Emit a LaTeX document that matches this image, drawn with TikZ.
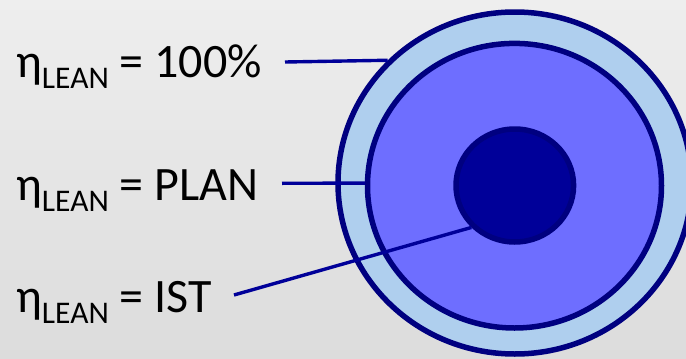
\documentclass[tikz,border=0pt]{standalone}
\usepackage{fontspec}
\setmainfont{Carlito}
\usetikzlibrary{shapes.geometric}
\definecolor{bgtop}{HTML}{EEEEEE}
\definecolor{bgbot}{HTML}{DCDCDC}
\definecolor{ringlight}{HTML}{AFCFEE}
\definecolor{ringmid}{HTML}{6E6EFF}
\definecolor{coredark}{HTML}{000099}
\definecolor{rimnavy}{HTML}{000080}
\definecolor{linkblue}{HTML}{000099}
\tikzset{
  ring/.style={ellipse, draw=rimnavy, line width=5.5pt, inner sep=0pt},
  label/.style={anchor=base west, inner sep=0pt, font=\fontsize{48}{52}\selectfont},
  link/.style={draw=linkblue, line width=3.4pt}
}
\newcommand{\etalean}{η\raisebox{-11pt}{\fontsize{31.5}{34}\selectfont LEAN}}
\begin{document}
\begin{tikzpicture}[x=1pt,y=-1pt]
\useasboundingbox (0,0) rectangle (686,359);
\clip (0,0) rectangle (686,359);
\shade[top color=bgtop, bottom color=bgbot] (0,0) rectangle (686,359);
\node[ring, fill=ringlight, minimum width=353.6pt, minimum height=342pt] (outer) at (514.8,183) {};
\node[ring, fill=ringmid, minimum width=294pt, minimum height=284.6pt] (middle) at (514.5,185.7) {};
\node[ring, fill=coredark, minimum width=117.6pt, minimum height=113pt] (inner) at (514.8,185.5) {};
\node[label] (t1) at (16,77) {\etalean{} = 100\%};
\node[label] (t2) at (16,200) {\etalean{} = PLAN};
\node[label] (t3) at (16,312) {\etalean{} = IST};
\coordinate (s1) at (285,62);
\coordinate (s2) at (282,183.3);
\coordinate (s3) at (234,295);
\draw[link] (s1) -- (outer.136);
\draw[link] (s2) -- (middle.179);
\draw[link] (s3) -- (inner.224);
\end{tikzpicture}
\end{document}
